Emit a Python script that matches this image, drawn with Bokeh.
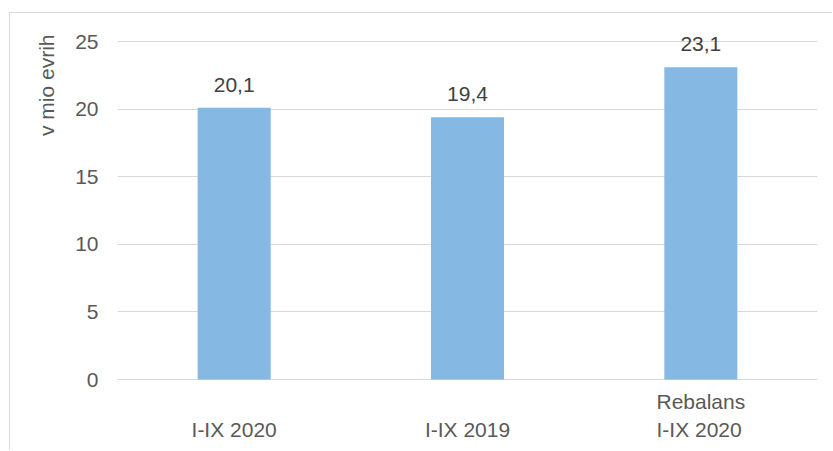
from bokeh.plotting import figure
from bokeh.models import ColumnDataSource, Title, Range1d, LabelSet
from bokeh.embed import file_html
from bokeh.resources import INLINE
from bokeh.core.properties import value

categories = ["I-IX 2020", "I-IX 2019", "Rebalans\nI-IX 2020"]
values = [20.1, 19.4, 23.1]
y_ticks = [0, 5, 10, 15, 20, 25]
y_title = "v mio evrih"

labels = [f"{v:.1f}".replace(".", ",") for v in values]
source = ColumnDataSource(data=dict(cat=categories, val=values, lab=labels,
                                    zero=[0] * len(values)))

FONT = "Liberation Sans"
FS = "21px"

# the frame is extended a little above 25 and below 0 so that the value labels
# and the category labels (drawn as LabelSets) stay inside the drawable area
p = figure(x_range=categories, width=823, height=438, output_backend="svg",
           toolbar_location=None, min_border_left=107, min_border_right=16,
           min_border_top=21, min_border_bottom=0)
p.y_range = Range1d(-5.325, 25.518)
p.outline_line_color = None
p.background_fill_color = "white"
p.border_fill_color = "white"
p.margin = (13, 0, 0, 10)
p.styles = {"box-shadow": "-1px -1px 0 0 #D9D9D9"}

p.vbar(x="cat", top="val", bottom=0, width=0.313, source=source,
       fill_color="#85B9E4", line_color=None)

value_labels = LabelSet(x="cat", y="val", text="lab", source=source, text_align="center",
                        text_baseline="bottom", y_offset=16, text_font=value(FONT),
                        text_font_size=FS, text_color="#404040")
p.add_layout(value_labels)

cat_labels = LabelSet(x="cat", y="zero", text="cat", source=source, text_align="center",
                      text_baseline="bottom", y_offset=-61, text_font=value(FONT),
                      text_font_size=FS, text_color="#595959", text_line_height=1.2)
p.add_layout(cat_labels)

p.xgrid.grid_line_color = None
p.ygrid.grid_line_color = "#D9D9D9"
p.ygrid.grid_line_width = 1
p.yaxis.ticker = y_ticks
p.xaxis.visible = False

ax = p.yaxis[0]
ax.axis_line_color = None
ax.major_tick_line_color = None
ax.minor_tick_line_color = None
ax.major_label_text_font = FONT
ax.major_label_text_font_size = FS
ax.major_label_text_color = "#595959"
ax.major_label_standoff = 13

t = Title(text=y_title, align="right", text_font=FONT, text_font_size=FS,
          text_font_style="normal", text_color="#595959", standoff=29, offset=0)
p.add_layout(t, "left")

open("out.html", "w").write(file_html(p, INLINE))
